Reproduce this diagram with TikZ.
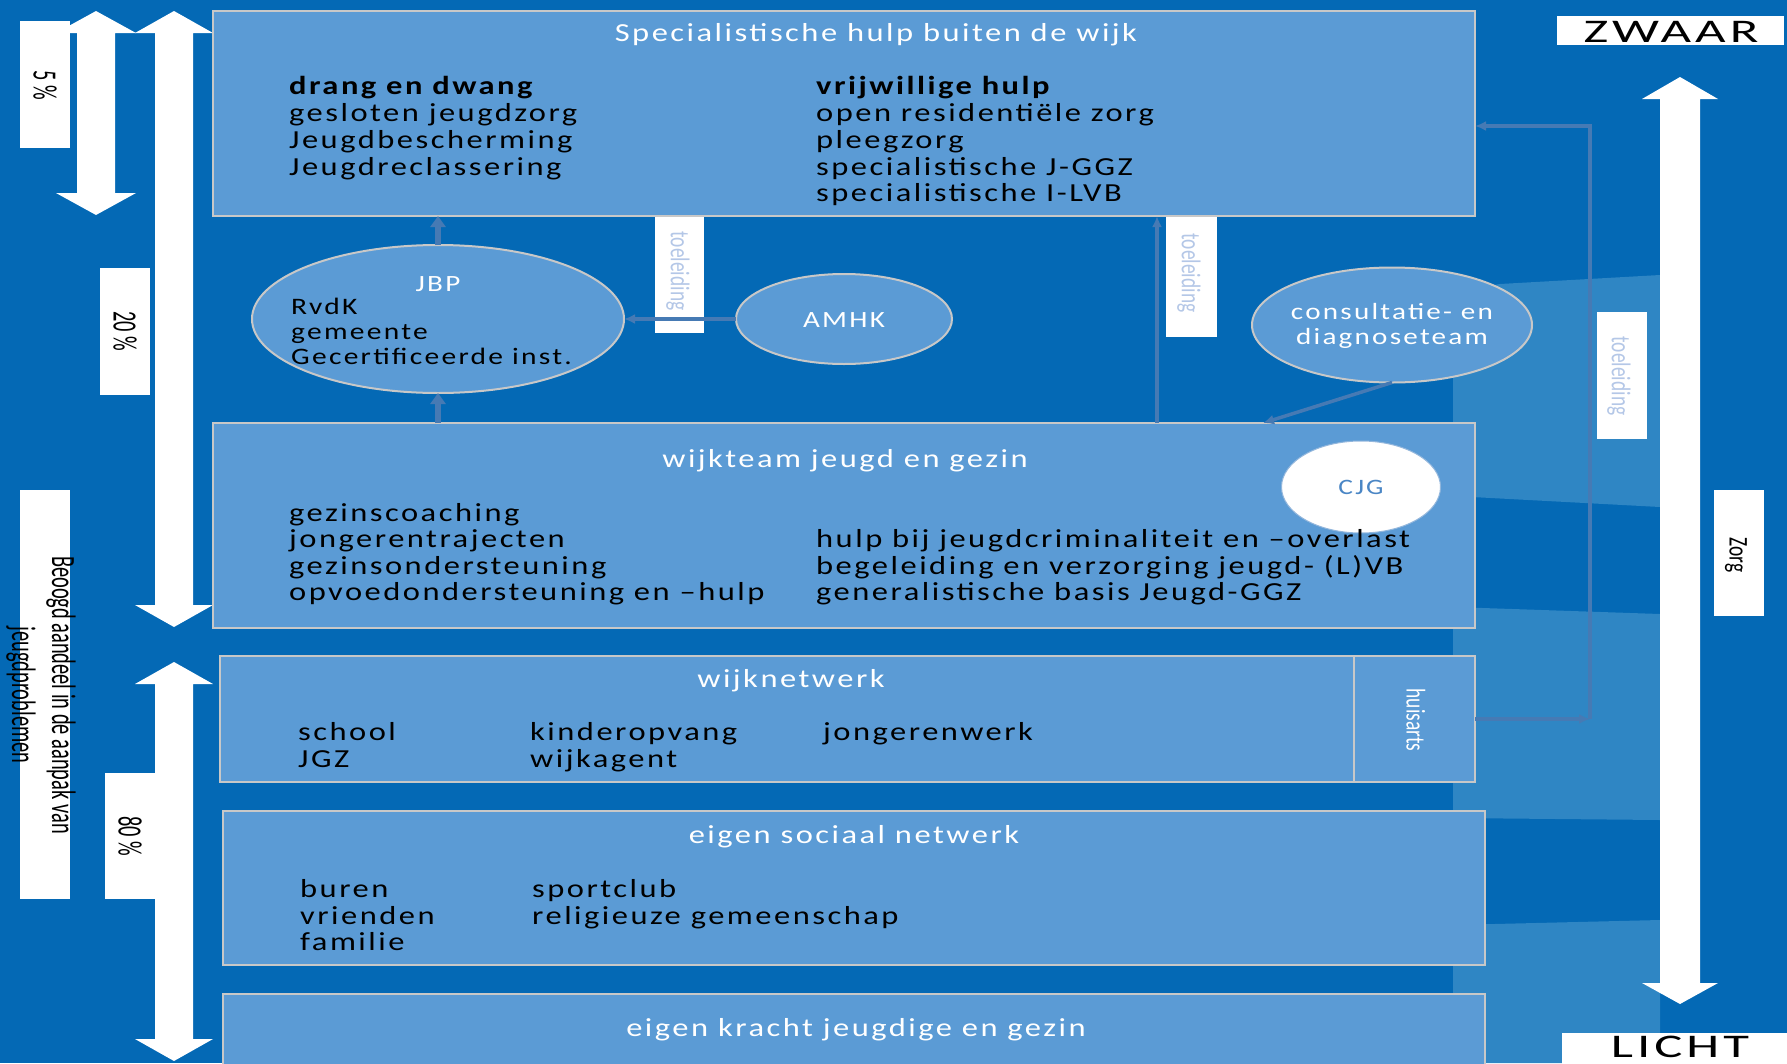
\documentclass[tikz,border=0pt]{standalone}
\usepackage{fontspec}
\setmainfont{Carlito}
\newfontfamily\hfont{Carlito}[FakeStretch=1.25,LetterSpace=9.6]
\newfontfamily\bigfont{Carlito}[FakeStretch=1.6,LetterSpace=12]
\newfontfamily\vfont{Carlito}[FakeStretch=0.6]
\newfontfamily\vsfont{Carlito}[FakeStretch=0.72]
\usetikzlibrary{shapes.geometric,arrows.meta}
\definecolor{bgblue}{RGB}{4,105,181}
\definecolor{tileblue}{RGB}{47,134,196}
\definecolor{boxfill}{RGB}{91,155,213}
\definecolor{boxline}{RGB}{200,200,200}
\definecolor{conncol}{RGB}{70,122,180}
\definecolor{tltext}{RGB}{180,199,231}
\definecolor{cjgtext}{RGB}{74,134,197}
\begin{document}
\begin{tikzpicture}[x=1pt,y=-1pt,
  panel/.style={draw=boxline,line width=2pt,fill=boxfill,anchor=north west,inner sep=0pt,outer sep=0pt},
  bubble/.style={ellipse,draw=boxline,line width=2pt,fill=boxfill,inner sep=0pt,outer sep=0pt},
  ttl/.style={font=\hfont\fontsize{26}{27}\selectfont,text=white,inner sep=0pt,anchor=base},
  itm/.style={font=\hfont\fontsize{26}{27}\selectfont,text=black,inner sep=0pt,anchor=base west},
  eitm/.style={font=\hfont\fontsize{23.6}{25}\selectfont,text=black,inner sep=0pt,anchor=base west},
  etxt/.style={font=\hfont\fontsize{23.3}{25}\selectfont,text=white,inner sep=0pt,anchor=base},
  wbox/.style={fill=white,draw=none,anchor=north west,inner sep=0pt,outer sep=0pt},
  vlab/.style={font=\vfont\fontsize{34}{40}\selectfont,text=black,rotate=-90,inner sep=0pt},
  vsml/.style={font=\vsfont\fontsize{27}{30}\selectfont,rotate=-90,inner sep=0pt},
  biglab/.style={font=\bigfont\fontsize{33}{35}\selectfont,text=black,inner sep=0pt,anchor=base},
  conn/.style={draw=conncol,line width=3.5pt,-{Latex[length=11pt,width=10pt]}},
  fatconn/.style={draw=conncol,line width=6pt,-{Triangle[length=11pt,width=15pt]}},
  bigarrow/.style={fill=white,draw=none}
]
\useasboundingbox (0,0) rectangle (1787,1063);
\fill[bgblue] (0,0) rectangle (1787,1063);
% lighter background tiles
\fill[tileblue] (1453,292) -- (1500,284) -- (1660,275) -- (1660,507) -- (1453,496) -- cycle;
\fill[tileblue] (1453,607) -- (1660,614) -- (1660,820) -- (1453,818) -- cycle;
\fill[tileblue] (1453,925) -- (1660,920) -- (1660,1063) -- (1453,1063) -- cycle;

% big white double arrows
\fill[bigarrow] (96,11) -- (136,33) -- (115,33) -- (115,193) -- (136,193) -- (96,215) -- (56,193) -- (77,193) -- (77,33) -- (56,33) -- cycle;
\fill[bigarrow] (174,11) -- (213,33) -- (193,33) -- (193,605) -- (213,605) -- (174,627) -- (135,605) -- (155,605) -- (155,33) -- (135,33) -- cycle;
\fill[bigarrow] (174,662) -- (213,684) -- (193,684) -- (193,1039) -- (213,1039) -- (174,1061) -- (135,1039) -- (155,1039) -- (155,684) -- (135,684) -- cycle;
\fill[bigarrow] (1680,77) -- (1718,99) -- (1700,99) -- (1700,983) -- (1718,983) -- (1680,1004) -- (1642,983) -- (1660,983) -- (1660,99) -- (1642,99) -- cycle;

% panels
\node[panel,minimum width=1262pt,minimum height=205pt] (spec) at (213,11) {};
\node[panel,minimum width=1262pt,minimum height=205pt] (wijk) at (213,423) {};
\node[panel,minimum width=1134pt,minimum height=126pt] (net) at (220,656) {};
\node[panel,minimum width=121pt,minimum height=126pt] (huis) at (1354,656) {};
\node[panel,minimum width=1262pt,minimum height=154pt] (soc) at (223,811) {};
\node[panel,minimum width=1262pt,minimum height=80pt] (kracht) at (223,994) {};

% ellipses
\node[bubble,minimum width=372pt,minimum height=148pt] (jbp) at (438,319) {};
\node[bubble,minimum width=216pt,minimum height=90pt] (amhk) at (844,319) {};
\node[bubble,minimum width=280pt,minimum height=115pt] (cdt) at (1392,325) {};
\node[ellipse,fill=white,draw=cjgtext!60,line width=1pt,minimum width=159pt,minimum height=92pt,inner sep=0pt] (cjg) at (1361,487) {};

% white label boxes
\node[wbox,minimum width=50pt,minimum height=127pt] (b5) at (20,21) {};
\node[wbox,minimum width=50pt,minimum height=127pt] (b20) at (100,268) {};
\node[wbox,minimum width=50pt,minimum height=409pt] (bbeo) at (20,490) {};
\node[wbox,minimum width=50pt,minimum height=126pt] (b80) at (105,773) {};
\node[wbox,minimum width=49pt,minimum height=116pt] (tl1) at (655,217) {};
\node[wbox,minimum width=51pt,minimum height=120pt] (tl2) at (1166,217) {};
\node[wbox,minimum width=50pt,minimum height=127pt] (tl3) at (1597,312) {};
\node[wbox,minimum width=50pt,minimum height=126pt] (bzorg) at (1714,490) {};
\node[wbox,minimum width=227pt,minimum height=29pt] (bzw) at (1557,16) {};
\node[wbox,minimum width=225pt,minimum height=31pt] (bli) at (1562,1033) {};

% connectors
\coordinate (tlx) at (1157,0);
\coordinate (cdtend) at (1263,423);
\coordinate (corner) at (1590,719);
\coordinate (specR) at (1475,126);
\draw[conn] (amhk.west) -- (jbp.east);
\draw[fatconn] (jbp.south |- wijk.north) -- (jbp.south);
\draw[fatconn] (jbp.north) -- (jbp.north |- spec.south);
\draw[conn] (wijk.north -| tlx) -- (spec.south -| tlx);
\draw[conn] (cdt.south) -- (cdtend);
\draw[conn] (huis.east) -- (corner);
\draw[conn] (corner) -- (corner |- specR) -- (specR);

% texts: top panel
\node[ttl] (specT) at (876,41) {Specialistische hulp buiten de wijk};
\node[itm] (s1) at (289,94.5) {\textbf{drang en dwang}};
\node[itm] (s2) at (289,121.5) {gesloten jeugdzorg};
\node[itm] (s3) at (289,148.5) {Jeugdbescherming};
\node[itm] (s4) at (289,175.5) {Jeugdreclassering};
\node[itm] (v1) at (816,94.5) {\textbf{vrijwillige hulp}};
\node[itm] (v2) at (816,121.5) {open residentiële zorg};
\node[itm] (v3) at (816,148.5) {pleegzorg};
\node[itm] (v4) at (816,175.5) {specialistische J-GGZ};
\node[itm] (v5) at (816,201.5) {specialistische I-LVB};

% wijkteam
\node[ttl] (wijkT) at (845,467) {wijkteam jeugd en gezin};
\node[itm] (w1) at (289,521.5) {gezinscoaching};
\node[itm] (w2) at (289,547.5) {jongerentrajecten};
\node[itm] (w3) at (289,574.5) {gezinsondersteuning};
\node[itm] (w4) at (289,600.5) {opvoedondersteuning en –hulp};
\node[itm] (w5) at (816,547.5) {hulp bij jeugdcriminaliteit en –overlast};
\node[itm] (w6) at (816,574.5) {begeleiding en verzorging jeugd- (L)VB};
\node[itm] (w7) at (816,600.5) {generalistische basis Jeugd-GGZ};

% wijknetwerk
\node[ttl] (netT) at (791,687) {wijknetwerk};
\node[itm] (n1) at (298,740) {school};
\node[itm] (n2) at (298,767) {JGZ};
\node[itm] (n3) at (530,740) {kinderopvang};
\node[itm] (n4) at (530,767) {wijkagent};
\node[itm] (n5) at (823,740) {jongerenwerk};

% eigen sociaal netwerk
\node[ttl] (socT) at (854,843) {eigen sociaal netwerk};
\node[itm] (e1) at (300,897) {buren};
\node[itm] (e2) at (300,924) {vrienden};
\node[itm] (e3) at (300,950) {familie};
\node[itm] (e4) at (532,897) {sportclub};
\node[itm] (e5) at (532,924) {religieuze gemeenschap};

% eigen kracht
\node[ttl] (krachtT) at (856,1036) {eigen kracht jeugdige en gezin};

% ellipse texts
\node[etxt] (jbpT) at (438,291) {JBP};
\node[eitm] (j1) at (291,314.5) {RvdK};
\node[eitm] (j2) at (291,339.5) {gemeente};
\node[eitm] (j3) at (291,364.5) {Gecertificeerde inst.};
\node[etxt] (amhkT) at (844,327) {AMHK};
\node[etxt] (cdt1) at (1392,319) {consultatie- en};
\node[etxt] (cdt2) at (1392,344) {diagnoseteam};
\node[etxt,text=cjgtext,font=\hfont\fontsize{22}{24}\selectfont] (cjgT) at (1361,494) {CJG};

% vertical labels
\node[vlab] (t5) at (45,85) {5 \%};
\node[vlab] (t20) at (125,331) {20 \%};
\node[vlab,align=center] (tbeo) at (41,695) {Beoogd aandeel in de aanpak van\\jeugdproblemen};
\node[vlab] (t80) at (130,836) {80 \%};
\node[vsml,text=tltext] (tl1T) at (678,271) {toeleiding};
\node[vsml,text=tltext] (tl2T) at (1189,273) {toeleiding};
\node[vsml,text=tltext] (tl3T) at (1619,376) {toeleiding};
\node[vsml,text=white] (huisT) at (1416,720) {huisarts};
\node[vsml,text=black] (zorgT) at (1736,555) {Zorg};

% ZWAAR / LICHT
\node[biglab] (zwT) at (1671,42) {ZWAAR};
\node[biglab] (liT) at (1680,1057) {LICHT};
\end{tikzpicture}
\end{document}
